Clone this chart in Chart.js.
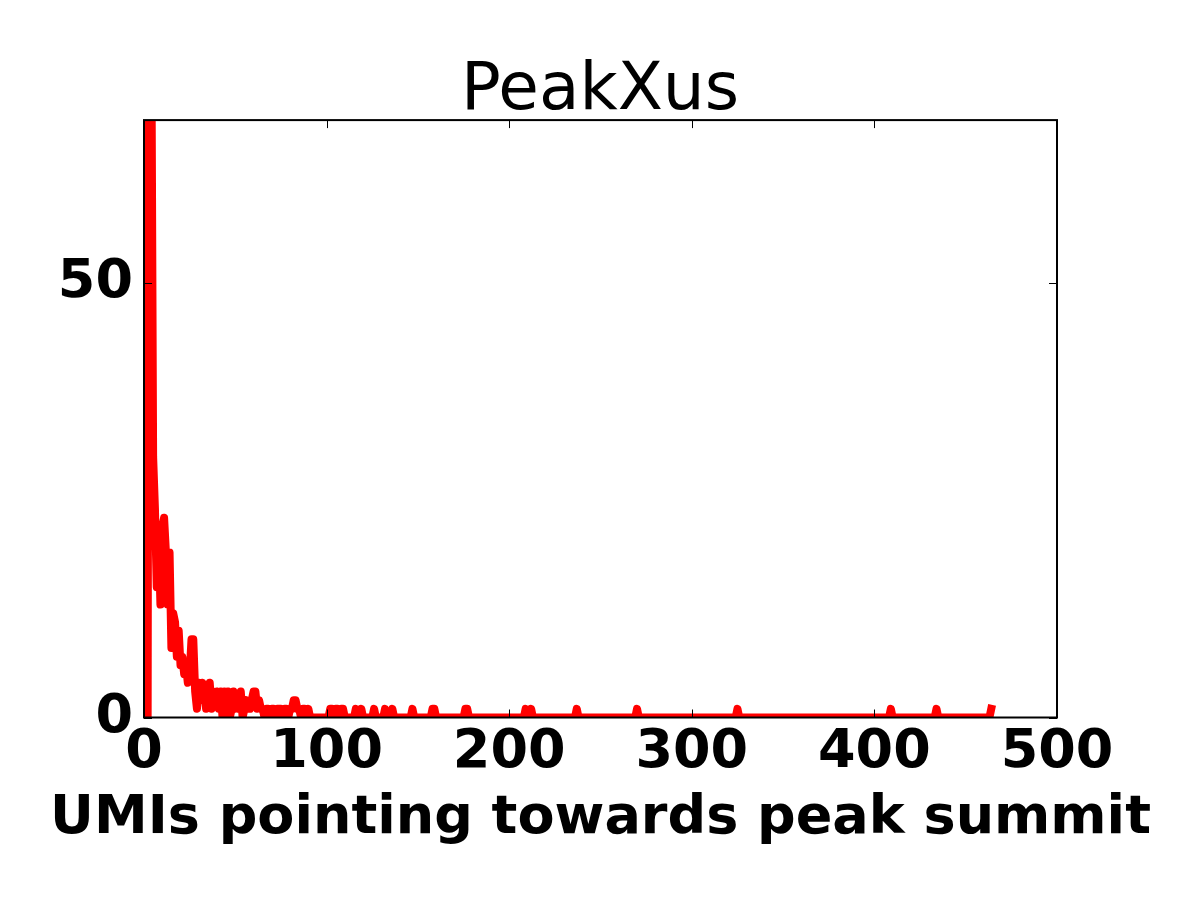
<!DOCTYPE html>
<html><head><meta charset="utf-8">
<script src="https://cdn.jsdelivr.net/npm/chart.js@4.4.0/dist/chart.umd.min.js"></script>
<style>html,body{margin:0;padding:0;background:#fff}canvas{display:block}</style>
</head><body>
<canvas id="c" width="1200" height="900"></canvas>
<script>
// UMIs pointing towards peak summit (x) and number of peaks (y)
const umis = [0,1,2,3,4,5,6,7,8,9,10,11,12,13,14,15,16,17,18,19,20,21,22,23,24,25,26,27,28,29,
  30,31,32,33,34,35,36,37,38,39,40,41,42,43,44,45,46,47,48,49,50,51,52,53,54,55,56,57,58,59,
  60,61,62,63,64,65,66,67,68,69,70,71,72,73,74,75,76,77,78,79,80,81,82,83,84,85,86,87,88,89,90,91,
  101,102,103,104,105,106,107,108,109,110,115,116,117,118,119,120,125,126,127,131,132,133,135,136,137,
  146,147,148,157,158,159,160,175,176,177,178,208,209,210,211,212,213,236,237,238,269,270,271,
  324,325,326,408,409,410,433,434,435,463,464];
const counts = [0,0,0,150,80,30,24,15,21,13,22,23,19,13,19,8,12,11,7,10,6,7,5,6,4,5,9,9,3,1,
  4,2,4,3,1,3,4,1,3,2,3,1,3,0,3,1,3,0,1,3,1,2,1,3,0,1,2,1,1,2,
  3,3,1,2,1,1,0,1,1,0,1,1,0,1,1,1,0,1,1,0,1,1,2,2,1,1,0,1,1,0,1,0,
  0,1,1,0,1,1,0,1,1,0,0,1,0,0,1,0,0,1,0,0,1,0,0,1,0,
  0,1,0,0,1,1,0,0,1,1,0,0,1,0,0,1,0,0,1,0,0,1,0,
  0,1,0,0,1,0,0,1,0,0,1];
const xTicks = [0,100,200,300,400,500];
const yTicks = [0,50];
const xRange = [0,500];
const yRange = [0,68.8];
const titleText = 'PeakXus';
const xLabel = 'UMIs pointing towards peak summit';

const points = umis.map((x,i)=>({x:x, y:counts[i]}));

const frame = {
  id:'frame',
  afterDatasetsDraw(chart){
    const {ctx, chartArea:a, scales:{x, y}} = chart;
    ctx.save();
    ctx.strokeStyle = '#000';
    ctx.lineWidth = 1;
    const L = 8;
    x.ticks.forEach(t=>{
      const px = Math.round(x.getPixelForValue(t.value))+0.5;
      ctx.beginPath(); ctx.moveTo(px,a.bottom); ctx.lineTo(px,a.bottom-L); ctx.stroke();
      ctx.beginPath(); ctx.moveTo(px,a.top); ctx.lineTo(px,a.top+L); ctx.stroke();
    });
    y.ticks.forEach(t=>{
      const py = Math.round(y.getPixelForValue(t.value))+0.5;
      ctx.beginPath(); ctx.moveTo(a.left,py); ctx.lineTo(a.left+L,py); ctx.stroke();
      ctx.beginPath(); ctx.moveTo(a.right,py); ctx.lineTo(a.right-L,py); ctx.stroke();
    });
    ctx.lineWidth = 2;
    ctx.strokeRect(a.left, a.top, a.right-a.left, a.bottom-a.top);
    // x-axis title (drawn without width compression)
    ctx.fillStyle = '#000';
    ctx.font = 'bold 54px "DejaVu Sans"';
    ctx.textAlign = 'center';
    ctx.textBaseline = 'alphabetic';
    ctx.fillText(xLabel, (a.left + a.right)/2, 832.5);
    ctx.restore();
  }
};

const tickFont = {family:'DejaVu Sans', size:54, weight:'bold', lineHeight:1};

new Chart(document.getElementById('c').getContext('2d'), {
  type:'line',
  data:{datasets:[{data:points, borderColor:'#ff0000', backgroundColor:'#ff0000', borderWidth:8,
    pointRadius:0, tension:0, fill:false, clip:0, borderJoinStyle:'round', borderCapStyle:'square'}]},
  options:{
    responsive:false, animation:false, devicePixelRatio:1,
    layout:{padding:0},
    plugins:{
      legend:{display:false}, tooltip:{enabled:false},
      title:{display:true, text:titleText, color:'#000',
        font:{family:'DejaVu Sans', size:66, weight:'normal', lineHeight:0.85},
        padding:{top:64,bottom:0}}
    },
    scales:{
      x:{type:'linear', min:xRange[0], max:xRange[1],
        afterBuildTicks:s=>{s.ticks = xTicks.map(v=>({value:v}));},
        grid:{display:false, drawTicks:false}, border:{display:false},
        ticks:{color:'#000', font:tickFont, padding:8.2, maxRotation:0, autoSkip:false, includeBounds:false},
        title:{display:false},
        afterFit:s=>{s.height = 182.5;}
      },
      y:{type:'linear', position:'left', min:yRange[0], max:yRange[1],
        afterBuildTicks:s=>{s.ticks = yTicks.map(v=>({value:v}));},
        grid:{display:false, drawTicks:false}, border:{display:false},
        ticks:{color:'#000', font:tickFont, padding:11, autoSkip:false, includeBounds:false},
        afterFit:s=>{s.width = 144;}
      },
      yRight:{type:'linear', position:'right', display:true,
        grid:{display:false, drawTicks:false}, border:{display:false},
        ticks:{display:false},
        afterFit:s=>{s.width = 143;}
      }
    }
  },
  plugins:[frame]
});
</script>
</body></html>
